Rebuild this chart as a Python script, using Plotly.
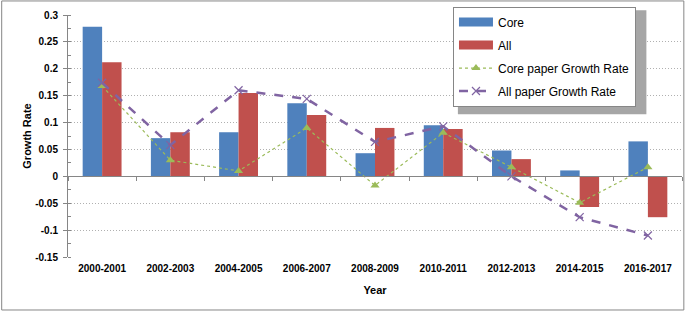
import plotly.graph_objects as go

years = ["2000-2001", "2002-2003", "2004-2005", "2006-2007", "2008-2009",
         "2010-2011", "2012-2013", "2014-2015", "2016-2017"]
core = [0.278, 0.071, 0.082, 0.136, 0.043, 0.095, 0.048, 0.011, 0.065]
all_ = [0.212, 0.082, 0.155, 0.114, 0.090, 0.088, 0.032, -0.057, -0.076]
core_growth = [0.168, 0.030, 0.010, 0.090, -0.017, 0.081, 0.017, -0.049, 0.017]
all_growth = [0.174, 0.058, 0.160, 0.144, 0.064, 0.093, 0.000, -0.076, -0.110]
ytick_vals = [-0.15, -0.1, -0.05, 0, 0.05, 0.1, 0.15, 0.2, 0.25, 0.3]
ytick_text = ["-0.15", "-0.1", "-0.05", "0", "0.05", "0.1", "0.15", "0.2", "0.25", "0.3"]

FONT = "Liberation Sans, Arial, sans-serif"
GRAY = "#868686"
BLUE, RED, GREEN, PURPLE = "#4F81BD", "#C0504D", "#9BBB59", "#8064A2"

fig = go.Figure()
fig.add_trace(go.Bar(x=years, y=core, name="Core", marker_color=BLUE,
                     showlegend=False, marker_line_width=0))
fig.add_trace(go.Bar(x=years, y=all_, name="All", marker_color=RED,
                     showlegend=False, marker_line_width=0))
# legend-only entries with wide rectangular swatches (Excel style)
fig.add_trace(go.Scatter(x=[None], y=[None], name="Core", mode="lines",
                         legendgroup="a", line=dict(color=BLUE, width=9)))
fig.add_trace(go.Scatter(x=[None], y=[None], name="All", mode="lines",
                         legendgroup="b", line=dict(color=RED, width=9)))
fig.add_trace(go.Scatter(x=years, y=core_growth, name="Core paper Growth Rate",
                         mode="lines+markers", legendgroup="c",
                         line=dict(color=GREEN, width=1.2, dash="dot"),
                         marker=dict(symbol="triangle-up", size=8, color=GREEN)))
fig.add_trace(go.Scatter(x=years, y=all_growth, name="All paper Growth Rate",
                         mode="lines+markers", legendgroup="d",
                         line=dict(color=PURPLE, width=2.5, dash="dash"),
                         marker=dict(symbol="x-thin", size=8,
                                     line=dict(color=PURPLE, width=1.2))))
# helper trace for the category axis drawn along y=0
fig.add_trace(go.Scatter(x=years, y=[None] * len(years), xaxis="x2",
                         showlegend=False, hoverinfo="skip", mode="lines"))

fig.update_layout(
    width=686, height=313,
    margin=dict(l=68, r=4, t=15, b=56, autoexpand=False),
    paper_bgcolor="white", plot_bgcolor="white",
    font=dict(family=FONT, size=10, color="black"),
    barmode="group", bargap=0.43, bargroupgap=0,
    legend=dict(x=0.627, y=1.035, xanchor="left", yanchor="top",
                bgcolor="white", bordercolor=GRAY, borderwidth=1,
                font=dict(family=FONT, size=12, color="black"),
                tracegroupgap=4, traceorder="grouped", itemwidth=34),
    xaxis=dict(type="category", showline=False, ticks="", showgrid=False,
               range=[-0.5, 8.5],
               tickfont=dict(family=FONT, size=10, weight="bold"),
               ticklabelstandoff=4,
               title=dict(text="<b>Year</b>", font=dict(size=11), standoff=13)),
    xaxis2=dict(type="category", overlaying="x", anchor="free", position=1/3,
                range=[-0.5, 8.5],
                showline=True, linecolor=GRAY, linewidth=1, ticks="outside",
                tickson="boundaries", ticklen=4, tickcolor=GRAY,
                showticklabels=False, showgrid=False, zeroline=False),
    yaxis=dict(range=[-0.15, 0.3], tickvals=ytick_vals, ticktext=ytick_text,
               tickfont=dict(family=FONT, size=10, weight="bold"),
               ticklabelstandoff=3,
               showline=True, linecolor=GRAY, linewidth=1,
               ticks="outside", ticklen=4, tickcolor=GRAY,
               minor=dict(dtick=0.025, ticks="inside", ticklen=3, tickcolor=GRAY,
                          showgrid=False),
               showgrid=True, gridcolor="#B0B0B0", griddash="1px,2px", gridwidth=1,
               zeroline=True, zerolinecolor=GRAY, zerolinewidth=1,
               title=dict(text="<b>Growth Rate</b>", font=dict(size=11), standoff=1)),
    shapes=[
        dict(type="rect", xref="paper", yref="paper",
             x0=-0.108, x1=1.003, y0=-0.219, y1=1.058,
             line=dict(color=GRAY, width=1), layer="below"),
        dict(type="rect", xref="paper", yref="paper",
             x0=0.635, x1=0.942, y0=0.59, y1=1.02,
             fillcolor="#A6A6A6", line=dict(width=0), layer="above"),
    ],
)

fig.write_html("out.html", config={"displayModeBar": False},
               post_script="document.body.style.margin='0';document.body.style.padding='0';")
